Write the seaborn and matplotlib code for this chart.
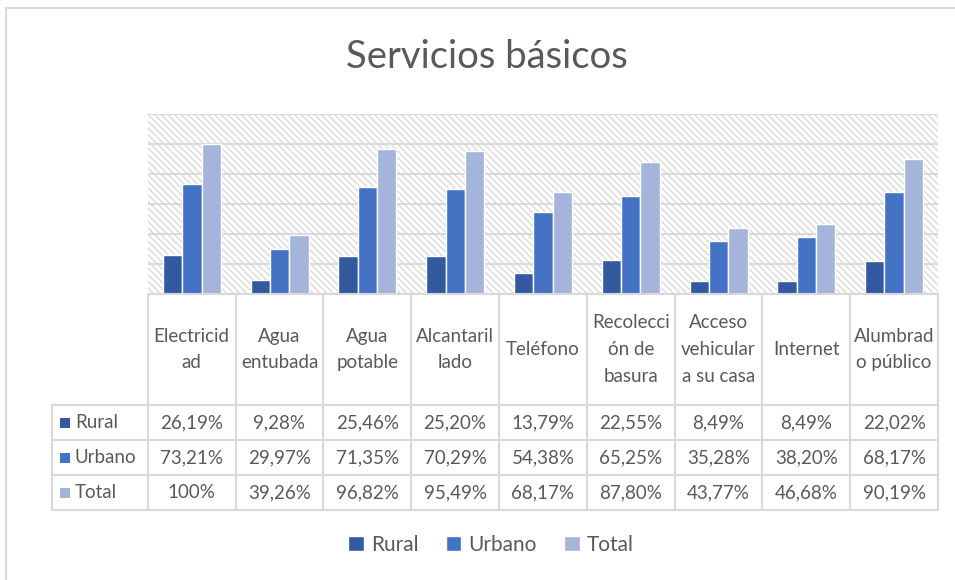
import matplotlib.pyplot as plt
import numpy as np
import pandas as pd
import seaborn as sns
from matplotlib.patches import Rectangle

categories = [
    "Electricid\nad", "Agua\nentubada", "Agua\npotable", "Alcantaril\nlado", "Teléfono",
    "Recolecci\nón de\nbasura", "Acceso\nvehicular\na su casa", "Internet", "Alumbrad\no público",
]
series = ["Rural", "Urbano", "Total"]
rural = [26.19, 9.28, 25.46, 25.20, 13.79, 22.55, 8.49, 8.49, 22.02]
urbano = [73.21, 29.97, 71.35, 70.29, 54.38, 65.25, 35.28, 38.20, 68.17]
total = [100.0, 39.26, 96.82, 95.49, 68.17, 87.80, 43.77, 46.68, 90.19]
colors = ["#335aa1", "#4472c4", "#a5b4db"]

TEXT = "#595959"
GRID = "#d9d9d9"

sns.set_style("white")
plt.rcParams["font.family"] = ["Lato", "DejaVu Sans"]
plt.rcParams["hatch.linewidth"] = 1.0

df = pd.DataFrame({
    "cat": np.repeat(np.arange(len(categories)), 3),
    "serie": series * len(categories),
    "valor": [v for trio in zip(rural, urbano, total) for v in trio],
})

W, H = 955, 580
fig = plt.figure(figsize=(W / 100, H / 100), dpi=100)

def px_box(x0, y0, x1, y1):
    return [x0 / W, 1 - y1 / H, (x1 - x0) / W, (y1 - y0) / H]

# outer chart border
fig.patches.append(Rectangle((6 / W, -0.1), 1.2, 1 - 8 / H + 0.1, transform=fig.transFigure,
                             fill=False, edgecolor=GRID, lw=1.5))

# bars
ax = fig.add_axes(px_box(148, 114, 938, 294))
ax.add_patch(Rectangle((0, 0), 1, 1, transform=ax.transAxes, facecolor="white",
                       hatch="\\\\\\\\\\", edgecolor="#dadada", lw=0, zorder=0))
sns.barplot(data=df, x="cat", y="valor", hue="serie", palette=colors, width=0.66,
            saturation=1, native_scale=True, legend=False, ax=ax, zorder=3)
ax.set_xlim(-0.5, len(categories) - 0.5)
ax.set_ylim(0, 120)
ax.set_yticks(np.arange(0, 121, 20))
ax.yaxis.grid(True, color=GRID, lw=1.5, zorder=1)
ax.set_axisbelow(True)
ax.tick_params(left=False, bottom=False, labelleft=False, labelbottom=False)
ax.set_xlabel("")
ax.set_ylabel("")
for s in ax.spines.values():
    s.set_visible(False)

# data table
tx = fig.add_axes(px_box(52, 294, 940, 511))
col_w = 88
lab_w = 96 / col_w
tx.set_xlim(-0.5 - lab_w, len(categories) - 0.5 + 2 / col_w)
tx.set_ylim(217, 0)
tx.axis("off")
head_h, row_h = 111, 35
kw = dict(color=GRID, lw=1.5, clip_on=False)
tx.plot([-0.5, len(categories) - 0.5], [0, 0], **kw)
for k in range(4):
    y = head_h + k * row_h
    tx.plot([-0.5 - lab_w, len(categories) - 0.5], [y, y], **kw)
tx.plot([-0.5 - lab_w] * 2, [head_h, head_h + 3 * row_h], **kw)
for i in range(len(categories) + 1):
    tx.plot([i - 0.5] * 2, [0, head_h + 3 * row_h], **kw)

for i, cat in enumerate(categories):
    tx.text(i, head_h / 2, cat, ha="center", va="center", fontsize=13.5,
            color=TEXT, linespacing=1.7)

def fmt(v):
    return "100%" if v == 100 else f"{v:.2f}".replace(".", ",") + "%"

for r, (name, vals, c) in enumerate(zip(series, [rural, urbano, total], colors)):
    yc = head_h + (r + 0.5) * row_h
    tx.add_patch(Rectangle((-0.5 - lab_w + 8 / col_w, yc - 5), 10 / col_w, 10,
                           facecolor=c, edgecolor="none", clip_on=False))
    tx.text(-0.5 - lab_w + 23 / col_w, yc, name, ha="left", va="center",
            fontsize=13.5, color=TEXT)
    for i, v in enumerate(vals):
        tx.text(i, yc, fmt(v), ha="center", va="center", fontsize=13.5, color=TEXT)

fig.text(487 / W, 1 - 57 / H, "Servicios básicos", ha="center", va="center",
         fontsize=27.5, color=TEXT)

handles = [Rectangle((0, 0), 1, 1, facecolor=c) for c in colors]
fig.legend(handles, series, loc="center", bbox_to_anchor=(491 / W, 1 - 545 / H), ncol=3,
           frameon=False, fontsize=15, labelcolor=TEXT, handlelength=0.75,
           handleheight=0.75, handletextpad=0.35, columnspacing=1.3)

fig.savefig("out.png", dpi=100)
